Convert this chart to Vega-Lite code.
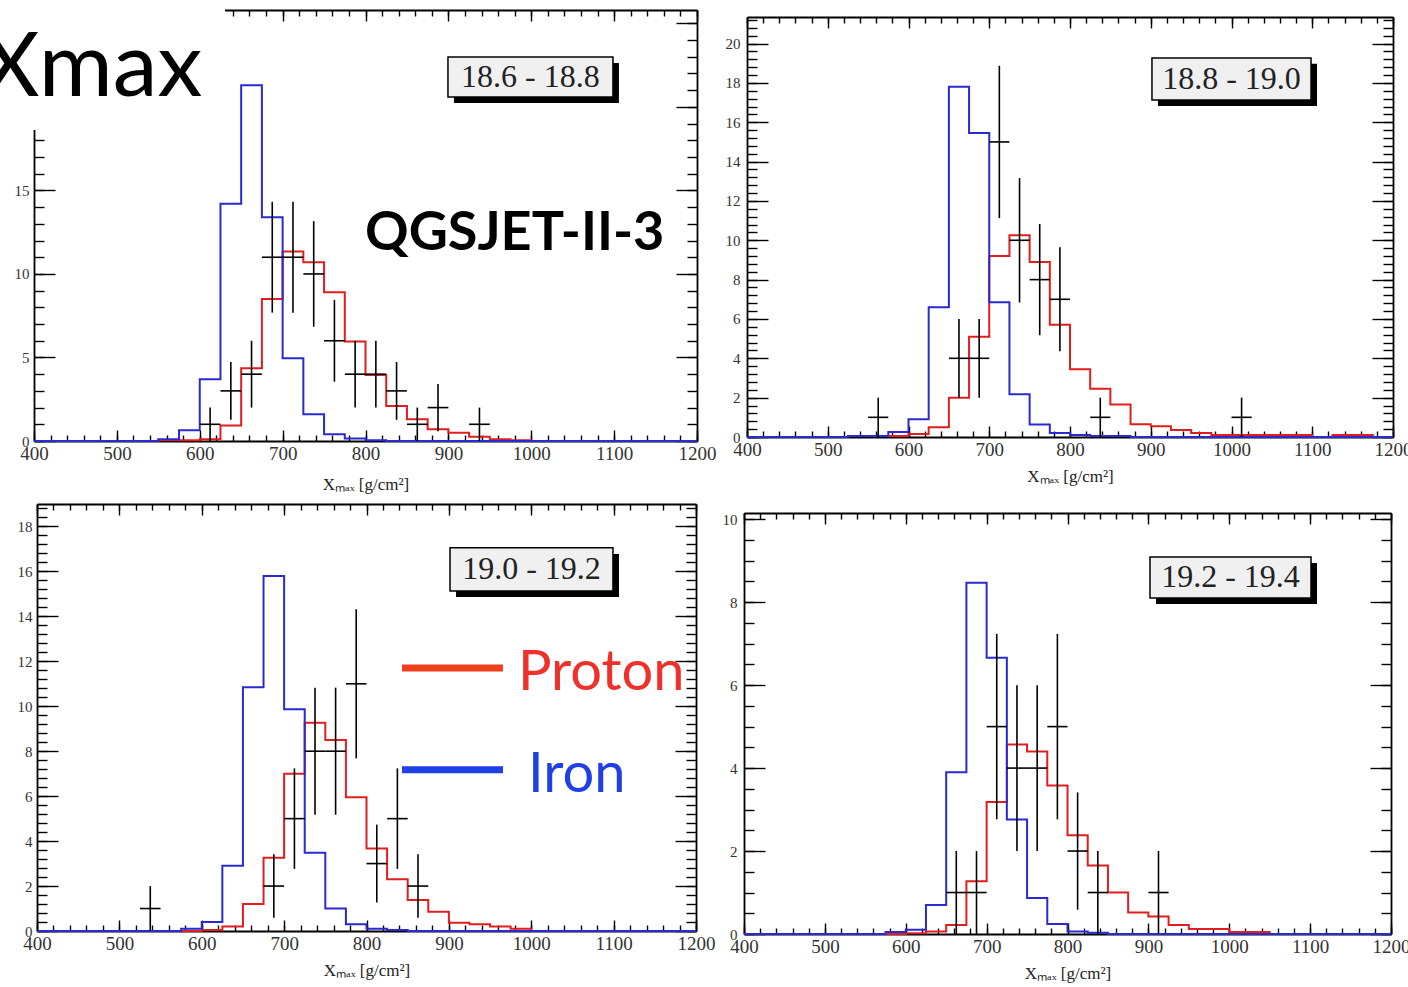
{
  "$schema": "https://vega.github.io/schema/vega-lite/v6.json",
  "width": 1408,
  "height": 987,
  "autosize": {"type": "none"},
  "padding": 0,
  "background": "white",
  "config": {
    "view": {"stroke": null},
    "axis": {"domainColor": "#000", "domainWidth": 1.8, "tickColor": "#000", "tickWidth": 1.4, "labelFont": "Liberation Serif", "labelColor": "#333", "labelOverlap": false, "labelFlush": false, "labelBound": false, "grid": false, "titleFont": "Liberation Serif", "titleFontSize": 17, "titleFontWeight": "normal", "titleColor": "#222"},
    "axisX": {"labelFontSize": 19},
    "axisY": {"labelFontSize": 15}
  },
  "datasets": {
    "hist": [
      {"p":1,"s":"Iron","x":400,"n":0},{"p":1,"s":"Iron","x":550,"n":0.1},{"p":1,"s":"Iron","x":575,"n":0.65},{"p":1,"s":"Iron","x":600,"n":3.7},{"p":1,"s":"Iron","x":625,"n":14.2},{"p":1,"s":"Iron","x":650,"n":21.3},{"p":1,"s":"Iron","x":675,"n":13.4},{"p":1,"s":"Iron","x":700,"n":4.95},{"p":1,"s":"Iron","x":725,"n":1.6},{"p":1,"s":"Iron","x":750,"n":0.4},{"p":1,"s":"Iron","x":775,"n":0.15},{"p":1,"s":"Iron","x":800,"n":0.05},{"p":1,"s":"Iron","x":825,"n":0},{"p":1,"s":"Iron","x":1200,"n":0},
      {"p":1,"s":"Proton","x":400,"n":0},{"p":1,"s":"Proton","x":550,"n":0.05},{"p":1,"s":"Proton","x":600,"n":0.1},{"p":1,"s":"Proton","x":625,"n":0.93},{"p":1,"s":"Proton","x":650,"n":4.35},{"p":1,"s":"Proton","x":675,"n":8.5},{"p":1,"s":"Proton","x":700,"n":11.35},{"p":1,"s":"Proton","x":725,"n":10.7},{"p":1,"s":"Proton","x":750,"n":8.9},{"p":1,"s":"Proton","x":775,"n":5.95},{"p":1,"s":"Proton","x":800,"n":3.95},{"p":1,"s":"Proton","x":825,"n":2.1},{"p":1,"s":"Proton","x":850,"n":1.3},{"p":1,"s":"Proton","x":875,"n":0.7},{"p":1,"s":"Proton","x":900,"n":0.5},{"p":1,"s":"Proton","x":925,"n":0.25},{"p":1,"s":"Proton","x":950,"n":0.1},{"p":1,"s":"Proton","x":975,"n":0.05},{"p":1,"s":"Proton","x":1000,"n":0},{"p":1,"s":"Proton","x":1200,"n":0},
      {"p":2,"s":"Iron","x":400,"n":0},{"p":2,"s":"Iron","x":525,"n":0.05},{"p":2,"s":"Iron","x":575,"n":0.25},{"p":2,"s":"Iron","x":600,"n":0.9},{"p":2,"s":"Iron","x":625,"n":6.6},{"p":2,"s":"Iron","x":650,"n":17.8},{"p":2,"s":"Iron","x":675,"n":15.45},{"p":2,"s":"Iron","x":700,"n":6.85},{"p":2,"s":"Iron","x":725,"n":2.17},{"p":2,"s":"Iron","x":750,"n":0.63},{"p":2,"s":"Iron","x":775,"n":0.2},{"p":2,"s":"Iron","x":800,"n":0.1},{"p":2,"s":"Iron","x":825,"n":0.05},{"p":2,"s":"Iron","x":875,"n":0},{"p":2,"s":"Iron","x":1200,"n":0},
      {"p":2,"s":"Proton","x":400,"n":0},{"p":2,"s":"Proton","x":525,"n":0.05},{"p":2,"s":"Proton","x":600,"n":0.15},{"p":2,"s":"Proton","x":625,"n":0.5},{"p":2,"s":"Proton","x":650,"n":2.0},{"p":2,"s":"Proton","x":675,"n":5.1},{"p":2,"s":"Proton","x":700,"n":9.2},{"p":2,"s":"Proton","x":725,"n":10.25},{"p":2,"s":"Proton","x":750,"n":8.9},{"p":2,"s":"Proton","x":775,"n":5.7},{"p":2,"s":"Proton","x":800,"n":3.45},{"p":2,"s":"Proton","x":825,"n":2.45},{"p":2,"s":"Proton","x":850,"n":1.65},{"p":2,"s":"Proton","x":875,"n":0.65},{"p":2,"s":"Proton","x":900,"n":0.55},{"p":2,"s":"Proton","x":925,"n":0.35},{"p":2,"s":"Proton","x":950,"n":0.2},{"p":2,"s":"Proton","x":975,"n":0.1},{"p":2,"s":"Proton","x":1100,"n":0},{"p":2,"s":"Proton","x":1125,"n":0.1},{"p":2,"s":"Proton","x":1175,"n":0},{"p":2,"s":"Proton","x":1200,"n":0},
      {"p":3,"s":"Iron","x":400,"n":0},{"p":3,"s":"Iron","x":575,"n":0.1},{"p":3,"s":"Iron","x":600,"n":0.4},{"p":3,"s":"Iron","x":625,"n":2.9},{"p":3,"s":"Iron","x":650,"n":10.85},{"p":3,"s":"Iron","x":675,"n":15.8},{"p":3,"s":"Iron","x":700,"n":9.87},{"p":3,"s":"Iron","x":725,"n":3.48},{"p":3,"s":"Iron","x":750,"n":1.0},{"p":3,"s":"Iron","x":775,"n":0.3},{"p":3,"s":"Iron","x":800,"n":0.1},{"p":3,"s":"Iron","x":825,"n":0.05},{"p":3,"s":"Iron","x":850,"n":0},{"p":3,"s":"Iron","x":1200,"n":0},
      {"p":3,"s":"Proton","x":400,"n":0},{"p":3,"s":"Proton","x":600,"n":0.05},{"p":3,"s":"Proton","x":625,"n":0.2},{"p":3,"s":"Proton","x":650,"n":1.2},{"p":3,"s":"Proton","x":675,"n":3.26},{"p":3,"s":"Proton","x":700,"n":7.0},{"p":3,"s":"Proton","x":725,"n":9.27},{"p":3,"s":"Proton","x":750,"n":8.5},{"p":3,"s":"Proton","x":775,"n":5.95},{"p":3,"s":"Proton","x":800,"n":3.67},{"p":3,"s":"Proton","x":825,"n":2.3},{"p":3,"s":"Proton","x":850,"n":1.38},{"p":3,"s":"Proton","x":875,"n":0.86},{"p":3,"s":"Proton","x":900,"n":0.37},{"p":3,"s":"Proton","x":925,"n":0.3},{"p":3,"s":"Proton","x":950,"n":0.2},{"p":3,"s":"Proton","x":975,"n":0.1},{"p":3,"s":"Proton","x":1000,"n":0},{"p":3,"s":"Proton","x":1200,"n":0},
      {"p":4,"s":"Iron","x":400,"n":0},{"p":4,"s":"Iron","x":575,"n":0.05},{"p":4,"s":"Iron","x":600,"n":0.1},{"p":4,"s":"Iron","x":625,"n":0.7},{"p":4,"s":"Iron","x":650,"n":3.9},{"p":4,"s":"Iron","x":675,"n":8.47},{"p":4,"s":"Iron","x":700,"n":6.66},{"p":4,"s":"Iron","x":725,"n":2.76},{"p":4,"s":"Iron","x":750,"n":0.87},{"p":4,"s":"Iron","x":775,"n":0.24},{"p":4,"s":"Iron","x":800,"n":0.06},{"p":4,"s":"Iron","x":825,"n":0.03},{"p":4,"s":"Iron","x":850,"n":0},{"p":4,"s":"Iron","x":1200,"n":0},
      {"p":4,"s":"Proton","x":400,"n":0},{"p":4,"s":"Proton","x":600,"n":0.02},{"p":4,"s":"Proton","x":625,"n":0.06},{"p":4,"s":"Proton","x":650,"n":0.22},{"p":4,"s":"Proton","x":675,"n":1.27},{"p":4,"s":"Proton","x":700,"n":3.18},{"p":4,"s":"Proton","x":725,"n":4.57},{"p":4,"s":"Proton","x":750,"n":4.4},{"p":4,"s":"Proton","x":775,"n":3.58},{"p":4,"s":"Proton","x":800,"n":2.38},{"p":4,"s":"Proton","x":825,"n":1.65},{"p":4,"s":"Proton","x":850,"n":1.0},{"p":4,"s":"Proton","x":875,"n":0.52},{"p":4,"s":"Proton","x":900,"n":0.42},{"p":4,"s":"Proton","x":925,"n":0.22},{"p":4,"s":"Proton","x":950,"n":0.12},{"p":4,"s":"Proton","x":1000,"n":0.05},{"p":4,"s":"Proton","x":1050,"n":0},{"p":4,"s":"Proton","x":1200,"n":0}
    ],
    "pts": [
      {"p":1,"x":612.5,"x0":600,"x1":625,"n":1,"lo":0,"hi":2},
      {"p":1,"x":637.5,"x0":625,"x1":650,"n":3,"lo":1.268,"hi":4.732},
      {"p":1,"x":662.5,"x0":650,"x1":675,"n":4,"lo":2,"hi":6},
      {"p":1,"x":687.5,"x0":675,"x1":700,"n":11,"lo":7.683,"hi":14.317},
      {"p":1,"x":712.5,"x0":700,"x1":725,"n":11,"lo":7.683,"hi":14.317},
      {"p":1,"x":737.5,"x0":725,"x1":750,"n":10,"lo":6.838,"hi":13.162},
      {"p":1,"x":762.5,"x0":750,"x1":775,"n":6,"lo":3.551,"hi":8.449},
      {"p":1,"x":787.5,"x0":775,"x1":800,"n":4,"lo":2,"hi":6},
      {"p":1,"x":812.5,"x0":800,"x1":825,"n":4,"lo":2,"hi":6},
      {"p":1,"x":837.5,"x0":825,"x1":850,"n":3,"lo":1.268,"hi":4.732},
      {"p":1,"x":862.5,"x0":850,"x1":875,"n":1,"lo":0,"hi":2},
      {"p":1,"x":887.5,"x0":875,"x1":900,"n":2,"lo":0.586,"hi":3.414},
      {"p":1,"x":937.5,"x0":925,"x1":950,"n":1,"lo":0,"hi":2},
      {"p":2,"x":562.5,"x0":550,"x1":575,"n":1,"lo":0,"hi":2},
      {"p":2,"x":662.5,"x0":650,"x1":675,"n":4,"lo":2,"hi":6},
      {"p":2,"x":687.5,"x0":675,"x1":700,"n":4,"lo":2,"hi":6},
      {"p":2,"x":712.5,"x0":700,"x1":725,"n":15,"lo":11.127,"hi":18.873},
      {"p":2,"x":737.5,"x0":725,"x1":750,"n":10,"lo":6.838,"hi":13.162},
      {"p":2,"x":762.5,"x0":750,"x1":775,"n":8,"lo":5.172,"hi":10.828},
      {"p":2,"x":787.5,"x0":775,"x1":800,"n":7,"lo":4.354,"hi":9.646},
      {"p":2,"x":837.5,"x0":825,"x1":850,"n":1,"lo":0,"hi":2},
      {"p":2,"x":1012.5,"x0":1000,"x1":1025,"n":1,"lo":0,"hi":2},
      {"p":3,"x":537.5,"x0":525,"x1":550,"n":1,"lo":0,"hi":2},
      {"p":3,"x":687.5,"x0":675,"x1":700,"n":2,"lo":0.586,"hi":3.414},
      {"p":3,"x":712.5,"x0":700,"x1":725,"n":5,"lo":2.764,"hi":7.236},
      {"p":3,"x":737.5,"x0":725,"x1":750,"n":8,"lo":5.172,"hi":10.828},
      {"p":3,"x":762.5,"x0":750,"x1":775,"n":8,"lo":5.172,"hi":10.828},
      {"p":3,"x":787.5,"x0":775,"x1":800,"n":11,"lo":7.683,"hi":14.317},
      {"p":3,"x":812.5,"x0":800,"x1":825,"n":3,"lo":1.268,"hi":4.732},
      {"p":3,"x":837.5,"x0":825,"x1":850,"n":5,"lo":2.764,"hi":7.236},
      {"p":3,"x":862.5,"x0":850,"x1":875,"n":2,"lo":0.586,"hi":3.414},
      {"p":4,"x":662.5,"x0":650,"x1":675,"n":1,"lo":0,"hi":2},
      {"p":4,"x":687.5,"x0":675,"x1":700,"n":1,"lo":0,"hi":2},
      {"p":4,"x":712.5,"x0":700,"x1":725,"n":5,"lo":2.764,"hi":7.236},
      {"p":4,"x":737.5,"x0":725,"x1":750,"n":4,"lo":2,"hi":6},
      {"p":4,"x":762.5,"x0":750,"x1":775,"n":4,"lo":2,"hi":6},
      {"p":4,"x":787.5,"x0":775,"x1":800,"n":5,"lo":2.764,"hi":7.236},
      {"p":4,"x":812.5,"x0":800,"x1":825,"n":2,"lo":0.586,"hi":3.414},
      {"p":4,"x":837.5,"x0":825,"x1":850,"n":1,"lo":0,"hi":2},
      {"p":4,"x":912.5,"x0":900,"x1":925,"n":1,"lo":0,"hi":2}
    ]
  },
  "resolve": {"scale": {"x": "independent", "y": "independent"}, "axis": {"x": "independent", "y": "independent"}},
  "layer": [
    {
      "resolve": {"axis": {"x": "independent", "y": "independent"}},
      "layer": [
        {"data": {"name": "hist"}, "transform": [{"filter": "datum.p == 1 && datum.s == 'Proton'"}],
         "mark": {"type": "line", "interpolate": "step-after", "color": "#e01e1e", "strokeWidth": 2},
         "encoding": {
           "x": {"field": "x", "type": "quantitative", "scale": {"domain": [400, 1200], "range": [34, 697], "nice": false, "zero": false},
                 "axis": {"orient": "bottom", "offset": -546, "values": [400,500,600,700,800,900,1000,1100,1200], "tickSize": -11, "labelPadding": 14, "labelOverlap": false, "format": "d", "title": "Xₘₐₓ [g/cm²]", "titlePadding": 13}},
           "y": {"field": "n", "type": "quantitative", "scale": {"domain": [0, 25.8], "range": [441, 10], "nice": false, "zero": false},
                 "axis": {"orient": "left", "offset": -34, "values": [0,5,10,15,20,25], "tickSize": -21, "labelPadding": 26, "labelOverlap": false, "format": "d", "title": null}}
         }},
        {"data": {"name": "hist"}, "transform": [{"filter": "datum.p == 1 && datum.s == 'Iron'"}],
         "mark": {"type": "line", "interpolate": "step-after", "color": "#2a2ad0", "strokeWidth": 2},
         "encoding": {
           "x": {"field": "x", "type": "quantitative",
                 "axis": {"orient": "top", "offset": -10, "values": [400,500,600,700,800,900,1000,1100,1200], "tickSize": -11, "labels": false, "title": null}},
           "y": {"field": "n", "type": "quantitative",
                 "axis": {"orient": "right", "offset": -711, "values": [0,5,10,15,20,25], "tickSize": -21, "labels": false, "title": null}}
         }},
        {"data": {"name": "pts"}, "transform": [{"filter": "datum.p == 1"}],
         "mark": {"type": "rule", "color": "#000", "strokeWidth": 1.6},
         "encoding": {
           "x": {"field": "x", "type": "quantitative",
                 "axis": {"orient": "bottom", "offset": -546, "values": [400,420,440,460,480,500,520,540,560,580,600,620,640,660,680,700,720,740,760,780,800,820,840,860,880,900,920,940,960,980,1000,1020,1040,1060,1080,1100,1120,1140,1160,1180,1200], "tickSize": -6, "labels": false, "domain": false, "title": null}},
           "y": {"field": "lo", "type": "quantitative",
                 "axis": {"orient": "left", "offset": -34, "values": [0,1,2,3,4,5,6,7,8,9,10,11,12,13,14,15,16,17,18,19,20,21,22,23,24,25], "tickSize": -10, "labels": false, "domain": false, "title": null}},
           "y2": {"field": "hi"}}},
        {"data": {"name": "pts"}, "transform": [{"filter": "datum.p == 1"}],
         "mark": {"type": "rule", "color": "#000", "strokeWidth": 1.6},
         "encoding": {
           "x": {"field": "x0", "type": "quantitative",
                 "axis": {"orient": "top", "offset": -10, "values": [400,420,440,460,480,500,520,540,560,580,600,620,640,660,680,700,720,740,760,780,800,820,840,860,880,900,920,940,960,980,1000,1020,1040,1060,1080,1100,1120,1140,1160,1180,1200], "tickSize": -6, "labels": false, "domain": false, "title": null}},
           "x2": {"field": "x1"},
           "y": {"field": "n", "type": "quantitative",
                 "axis": {"orient": "right", "offset": -711, "values": [0,1,2,3,4,5,6,7,8,9,10,11,12,13,14,15,16,17,18,19,20,21,22,23,24,25], "tickSize": -10, "labels": false, "domain": false, "title": null}}}},
        {"data": {"values": [{}]}, "mark": {"type": "rect", "color": "#000"},
         "encoding": {"x": {"datum": 906.7, "type": "quantitative", "axis": null}, "x2": {"datum": 1105.8}, "y": {"datum": 22.63, "type": "quantitative", "axis": null}, "y2": {"datum": 20.23}}},
        {"data": {"values": [{}]}, "mark": {"type": "rect", "fill": "#f0f0f0", "stroke": "#000", "strokeWidth": 1.5},
         "encoding": {"x": {"datum": 899.5, "type": "quantitative", "axis": null}, "x2": {"datum": 1098.6}, "y": {"datum": 22.99, "type": "quantitative", "axis": null}, "y2": {"datum": 20.59}}},
        {"data": {"values": [{}]}, "mark": {"type": "text", "font": "Liberation Serif", "fontSize": 32, "color": "#222", "align": "center", "baseline": "middle"},
         "encoding": {"x": {"datum": 999, "type": "quantitative", "axis": null}, "y": {"datum": 21.79, "type": "quantitative", "axis": null}, "text": {"value": "18.6 - 18.8"}}},
        {"data": {"values": [{}]}, "mark": {"type": "text", "font": "Lato", "fontWeight": "bold", "fontSize": 54, "color": "#000", "align": "left", "baseline": "alphabetic"},
         "encoding": {"x": {"datum": 799.4, "type": "quantitative", "axis": null}, "y": {"datum": 11.43, "type": "quantitative", "axis": null}, "text": {"value": "QGSJET-II-3"}}},
        {"data": {"values": [{}]}, "mark": {"type": "rect", "color": "#ffffff"},
         "encoding": {"x": {"datum": 330, "type": "quantitative", "axis": null}, "x2": {"datum": 630.5}, "y": {"datum": 27, "type": "quantitative", "axis": null}, "y2": {"datum": 18.62}}},
        {"data": {"values": [{}]}, "mark": {"type": "text", "font": "Lato", "fontSize": 90, "color": "#000", "align": "right", "baseline": "alphabetic"},
         "encoding": {"x": {"datum": 603, "type": "quantitative", "axis": null}, "y": {"datum": 20.65, "type": "quantitative", "axis": null}, "text": {"value": "Xmax"}}}
      ]
    },
    {
      "resolve": {"axis": {"x": "independent", "y": "independent"}},
      "layer": [
        {"data": {"name": "hist"}, "transform": [{"filter": "datum.p == 2 && datum.s == 'Proton'"}],
         "mark": {"type": "line", "interpolate": "step-after", "color": "#e01e1e", "strokeWidth": 2},
         "encoding": {
           "x": {"field": "x", "type": "quantitative", "scale": {"domain": [400, 1200], "range": [747, 1393], "nice": false, "zero": false},
                 "axis": {"orient": "bottom", "offset": -550, "values": [400,500,600,700,800,900,1000,1100,1200], "tickSize": -11, "labelPadding": 14, "labelOverlap": false, "format": "d", "title": "Xₘₐₓ [g/cm²]", "titlePadding": 9}},
           "y": {"field": "n", "type": "quantitative", "scale": {"domain": [0, 21.35], "range": [437, 17], "nice": false, "zero": false},
                 "axis": {"orient": "left", "offset": -747, "values": [0,2,4,6,8,10,12,14,16,18,20], "tickSize": -21, "labelPadding": 28, "labelOverlap": false, "format": "d", "title": null}}
         }},
        {"data": {"name": "hist"}, "transform": [{"filter": "datum.p == 2 && datum.s == 'Iron'"}],
         "mark": {"type": "line", "interpolate": "step-after", "color": "#2a2ad0", "strokeWidth": 2},
         "encoding": {
           "x": {"field": "x", "type": "quantitative",
                 "axis": {"orient": "top", "offset": -17, "values": [400,500,600,700,800,900,1000,1100,1200], "tickSize": -11, "labels": false, "title": null}},
           "y": {"field": "n", "type": "quantitative",
                 "axis": {"orient": "right", "offset": -15, "values": [0,2,4,6,8,10,12,14,16,18,20], "tickSize": -21, "labels": false, "title": null}}
         }},
        {"data": {"name": "pts"}, "transform": [{"filter": "datum.p == 2"}],
         "mark": {"type": "rule", "color": "#000", "strokeWidth": 1.6},
         "encoding": {
           "x": {"field": "x", "type": "quantitative",
                 "axis": {"orient": "bottom", "offset": -550, "values": [400,420,440,460,480,500,520,540,560,580,600,620,640,660,680,700,720,740,760,780,800,820,840,860,880,900,920,940,960,980,1000,1020,1040,1060,1080,1100,1120,1140,1160,1180,1200], "tickSize": -6, "labels": false, "domain": false, "title": null}},
           "y": {"field": "lo", "type": "quantitative",
                 "axis": {"orient": "left", "offset": -747, "values": [0,0.4,0.8,1.2,1.6,2,2.4,2.8,3.2,3.6,4,4.4,4.8,5.2,5.6,6,6.4,6.8,7.2,7.6,8,8.4,8.8,9.2,9.6,10,10.4,10.8,11.2,11.6,12,12.4,12.8,13.2,13.6,14,14.4,14.8,15.2,15.6,16,16.4,16.8,17.2,17.6,18,18.4,18.8,19.2,19.6,20,20.4,20.8,21.2], "tickSize": -10, "labels": false, "domain": false, "title": null}},
           "y2": {"field": "hi"}}},
        {"data": {"name": "pts"}, "transform": [{"filter": "datum.p == 2"}],
         "mark": {"type": "rule", "color": "#000", "strokeWidth": 1.6},
         "encoding": {
           "x": {"field": "x0", "type": "quantitative",
                 "axis": {"orient": "top", "offset": -17, "values": [400,420,440,460,480,500,520,540,560,580,600,620,640,660,680,700,720,740,760,780,800,820,840,860,880,900,920,940,960,980,1000,1020,1040,1060,1080,1100,1120,1140,1160,1180,1200], "tickSize": -6, "labels": false, "domain": false, "title": null}},
           "x2": {"field": "x1"},
           "y": {"field": "n", "type": "quantitative",
                 "axis": {"orient": "right", "offset": -15, "values": [0,0.4,0.8,1.2,1.6,2,2.4,2.8,3.2,3.6,4,4.4,4.8,5.2,5.6,6,6.4,6.8,7.2,7.6,8,8.4,8.8,9.2,9.6,10,10.4,10.8,11.2,11.6,12,12.4,12.8,13.2,13.6,14,14.4,14.8,15.2,15.6,16,16.4,16.8,17.2,17.6,18,18.4,18.8,19.2,19.6,20,20.4,20.8,21.2], "tickSize": -10, "labels": false, "domain": false, "title": null}}}},
        {"data": {"values": [{}]}, "mark": {"type": "rect", "color": "#000"},
         "encoding": {"x": {"datum": 908.9, "type": "quantitative", "axis": null}, "x2": {"datum": 1105.9}, "y": {"datum": 18.97, "type": "quantitative", "axis": null}, "y2": {"datum": 16.83}}},
        {"data": {"values": [{}]}, "mark": {"type": "rect", "fill": "#f0f0f0", "stroke": "#000", "strokeWidth": 1.5},
         "encoding": {"x": {"datum": 901.5, "type": "quantitative", "axis": null}, "x2": {"datum": 1098.5}, "y": {"datum": 19.27, "type": "quantitative", "axis": null}, "y2": {"datum": 17.13}}},
        {"data": {"values": [{}]}, "mark": {"type": "text", "font": "Liberation Serif", "fontSize": 32, "color": "#222", "align": "center", "baseline": "middle"},
         "encoding": {"x": {"datum": 1000, "type": "quantitative", "axis": null}, "y": {"datum": 18.2, "type": "quantitative", "axis": null}, "text": {"value": "18.8 - 19.0"}}}
      ]
    },
    {
      "resolve": {"axis": {"x": "independent", "y": "independent"}},
      "layer": [
        {"data": {"name": "hist"}, "transform": [{"filter": "datum.p == 3 && datum.s == 'Proton'"}],
         "mark": {"type": "line", "interpolate": "step-after", "color": "#e01e1e", "strokeWidth": 2},
         "encoding": {
           "x": {"field": "x", "type": "quantitative", "scale": {"domain": [400, 1200], "range": [37, 696], "nice": false, "zero": false},
                 "axis": {"orient": "bottom", "offset": -56, "values": [400,500,600,700,800,900,1000,1100,1200], "tickSize": -11, "labelPadding": 14, "labelOverlap": false, "format": "d", "title": "Xₘₐₓ [g/cm²]", "titlePadding": 9}},
           "y": {"field": "n", "type": "quantitative", "scale": {"domain": [0, 19], "range": [931, 504], "nice": false, "zero": false},
                 "axis": {"orient": "left", "offset": -37, "values": [0,2,4,6,8,10,12,14,16,18], "tickSize": -21, "labelPadding": 26, "labelOverlap": false, "format": "d", "title": null}}
         }},
        {"data": {"name": "hist"}, "transform": [{"filter": "datum.p == 3 && datum.s == 'Iron'"}],
         "mark": {"type": "line", "interpolate": "step-after", "color": "#2a2ad0", "strokeWidth": 2},
         "encoding": {
           "x": {"field": "x", "type": "quantitative",
                 "axis": {"orient": "top", "offset": -504, "values": [400,500,600,700,800,900,1000,1100,1200], "tickSize": -11, "labels": false, "title": null}},
           "y": {"field": "n", "type": "quantitative",
                 "axis": {"orient": "right", "offset": -712, "values": [0,2,4,6,8,10,12,14,16,18], "tickSize": -21, "labels": false, "title": null}}
         }},
        {"data": {"name": "pts"}, "transform": [{"filter": "datum.p == 3"}],
         "mark": {"type": "rule", "color": "#000", "strokeWidth": 1.6},
         "encoding": {
           "x": {"field": "x", "type": "quantitative",
                 "axis": {"orient": "bottom", "offset": -56, "values": [400,420,440,460,480,500,520,540,560,580,600,620,640,660,680,700,720,740,760,780,800,820,840,860,880,900,920,940,960,980,1000,1020,1040,1060,1080,1100,1120,1140,1160,1180,1200], "tickSize": -6, "labels": false, "domain": false, "title": null}},
           "y": {"field": "lo", "type": "quantitative",
                 "axis": {"orient": "left", "offset": -37, "values": [0,0.4,0.8,1.2,1.6,2,2.4,2.8,3.2,3.6,4,4.4,4.8,5.2,5.6,6,6.4,6.8,7.2,7.6,8,8.4,8.8,9.2,9.6,10,10.4,10.8,11.2,11.6,12,12.4,12.8,13.2,13.6,14,14.4,14.8,15.2,15.6,16,16.4,16.8,17.2,17.6,18,18.4,18.8], "tickSize": -10, "labels": false, "domain": false, "title": null}},
           "y2": {"field": "hi"}}},
        {"data": {"name": "pts"}, "transform": [{"filter": "datum.p == 3"}],
         "mark": {"type": "rule", "color": "#000", "strokeWidth": 1.6},
         "encoding": {
           "x": {"field": "x0", "type": "quantitative",
                 "axis": {"orient": "top", "offset": -504, "values": [400,420,440,460,480,500,520,540,560,580,600,620,640,660,680,700,720,740,760,780,800,820,840,860,880,900,920,940,960,980,1000,1020,1040,1060,1080,1100,1120,1140,1160,1180,1200], "tickSize": -6, "labels": false, "domain": false, "title": null}},
           "x2": {"field": "x1"},
           "y": {"field": "n", "type": "quantitative",
                 "axis": {"orient": "right", "offset": -712, "values": [0,0.4,0.8,1.2,1.6,2,2.4,2.8,3.2,3.6,4,4.4,4.8,5.2,5.6,6,6.4,6.8,7.2,7.6,8,8.4,8.8,9.2,9.6,10,10.4,10.8,11.2,11.6,12,12.4,12.8,13.2,13.6,14,14.4,14.8,15.2,15.6,16,16.4,16.8,17.2,17.6,18,18.4,18.8], "tickSize": -10, "labels": false, "domain": false, "title": null}}}},
        {"data": {"values": [{}]}, "mark": {"type": "rect", "color": "#000"},
         "encoding": {"x": {"datum": 908.7, "type": "quantitative", "axis": null}, "x2": {"datum": 1106.5}, "y": {"datum": 16.78, "type": "quantitative", "axis": null}, "y2": {"datum": 14.86}}},
        {"data": {"values": [{}]}, "mark": {"type": "rect", "fill": "#f0f0f0", "stroke": "#000", "strokeWidth": 1.5},
         "encoding": {"x": {"datum": 901.4, "type": "quantitative", "axis": null}, "x2": {"datum": 1099.2}, "y": {"datum": 17.05, "type": "quantitative", "axis": null}, "y2": {"datum": 15.13}}},
        {"data": {"values": [{}]}, "mark": {"type": "text", "font": "Liberation Serif", "fontSize": 32, "color": "#222", "align": "center", "baseline": "middle"},
         "encoding": {"x": {"datum": 1000.3, "type": "quantitative", "axis": null}, "y": {"datum": 16.09, "type": "quantitative", "axis": null}, "text": {"value": "19.0 - 19.2"}}},
        {"data": {"values": [{}]}, "mark": {"type": "rule", "color": "#f0401e", "strokeWidth": 7},
         "encoding": {"x": {"datum": 843.1, "type": "quantitative", "axis": null}, "x2": {"datum": 965.7}, "y": {"datum": 11.7, "type": "quantitative", "axis": null}}},
        {"data": {"values": [{}]}, "mark": {"type": "rule", "color": "#1f3fe8", "strokeWidth": 7},
         "encoding": {"x": {"datum": 843.1, "type": "quantitative", "axis": null}, "x2": {"datum": 965.7}, "y": {"datum": 7.17, "type": "quantitative", "axis": null}}},
        {"data": {"values": [{}]}, "mark": {"type": "text", "font": "Lato", "fontSize": 56, "color": "#f0302a", "align": "left", "baseline": "alphabetic"},
         "encoding": {"x": {"datum": 983.9, "type": "quantitative", "axis": null}, "y": {"datum": 10.73, "type": "quantitative", "axis": null}, "text": {"value": "Proton"}}},
        {"data": {"values": [{}]}, "mark": {"type": "text", "font": "Lato", "fontSize": 56, "color": "#1f3fe8", "align": "left", "baseline": "alphabetic"},
         "encoding": {"x": {"datum": 996.0, "type": "quantitative", "axis": null}, "y": {"datum": 6.19, "type": "quantitative", "axis": null}, "text": {"value": "Iron"}}}
      ]
    },
    {
      "resolve": {"axis": {"x": "independent", "y": "independent"}},
      "layer": [
        {"data": {"name": "hist"}, "transform": [{"filter": "datum.p == 4 && datum.s == 'Proton'"}],
         "mark": {"type": "line", "interpolate": "step-after", "color": "#e01e1e", "strokeWidth": 2},
         "encoding": {
           "x": {"field": "x", "type": "quantitative", "scale": {"domain": [400, 1200], "range": [744, 1391], "nice": false, "zero": false},
                 "axis": {"orient": "bottom", "offset": -53, "values": [400,500,600,700,800,900,1000,1100,1200], "tickSize": -11, "labelPadding": 14, "labelOverlap": false, "format": "d", "title": "Xₘₐₓ [g/cm²]", "titlePadding": 9}},
           "y": {"field": "n", "type": "quantitative", "scale": {"domain": [0, 10.15], "range": [934, 513], "nice": false, "zero": false},
                 "axis": {"orient": "left", "offset": -744, "values": [0,2,4,6,8,10], "tickSize": -21, "labelPadding": 28, "labelOverlap": false, "format": "d", "title": null}}
         }},
        {"data": {"name": "hist"}, "transform": [{"filter": "datum.p == 4 && datum.s == 'Iron'"}],
         "mark": {"type": "line", "interpolate": "step-after", "color": "#2a2ad0", "strokeWidth": 2},
         "encoding": {
           "x": {"field": "x", "type": "quantitative",
                 "axis": {"orient": "top", "offset": -513, "values": [400,500,600,700,800,900,1000,1100,1200], "tickSize": -11, "labels": false, "title": null}},
           "y": {"field": "n", "type": "quantitative",
                 "axis": {"orient": "right", "offset": -17, "values": [0,2,4,6,8,10], "tickSize": -21, "labels": false, "title": null}}
         }},
        {"data": {"name": "pts"}, "transform": [{"filter": "datum.p == 4"}],
         "mark": {"type": "rule", "color": "#000", "strokeWidth": 1.6},
         "encoding": {
           "x": {"field": "x", "type": "quantitative",
                 "axis": {"orient": "bottom", "offset": -53, "values": [400,420,440,460,480,500,520,540,560,580,600,620,640,660,680,700,720,740,760,780,800,820,840,860,880,900,920,940,960,980,1000,1020,1040,1060,1080,1100,1120,1140,1160,1180,1200], "tickSize": -6, "labels": false, "domain": false, "title": null}},
           "y": {"field": "lo", "type": "quantitative",
                 "axis": {"orient": "left", "offset": -744, "values": [0,0.5,1,1.5,2,2.5,3,3.5,4,4.5,5,5.5,6,6.5,7,7.5,8,8.5,9,9.5,10], "tickSize": -10, "labels": false, "domain": false, "title": null}},
           "y2": {"field": "hi"}}},
        {"data": {"name": "pts"}, "transform": [{"filter": "datum.p == 4"}],
         "mark": {"type": "rule", "color": "#000", "strokeWidth": 1.6},
         "encoding": {
           "x": {"field": "x0", "type": "quantitative",
                 "axis": {"orient": "top", "offset": -513, "values": [400,420,440,460,480,500,520,540,560,580,600,620,640,660,680,700,720,740,760,780,800,820,840,860,880,900,920,940,960,980,1000,1020,1040,1060,1080,1100,1120,1140,1160,1180,1200], "tickSize": -6, "labels": false, "domain": false, "title": null}},
           "x2": {"field": "x1"},
           "y": {"field": "n", "type": "quantitative",
                 "axis": {"orient": "right", "offset": -17, "values": [0,0.5,1,1.5,2,2.5,3,3.5,4,4.5,5,5.5,6,6.5,7,7.5,8,8.5,9,9.5,10], "tickSize": -10, "labels": false, "domain": false, "title": null}}}},
        {"data": {"values": [{}]}, "mark": {"type": "rect", "color": "#000"},
         "encoding": {"x": {"datum": 909.4, "type": "quantitative", "axis": null}, "x2": {"datum": 1108.5}, "y": {"datum": 8.945, "type": "quantitative", "axis": null}, "y2": {"datum": 7.955}}},
        {"data": {"values": [{}]}, "mark": {"type": "rect", "fill": "#f0f0f0", "stroke": "#000", "strokeWidth": 1.5},
         "encoding": {"x": {"datum": 902.0, "type": "quantitative", "axis": null}, "x2": {"datum": 1101.1}, "y": {"datum": 9.09, "type": "quantitative", "axis": null}, "y2": {"datum": 8.10}}},
        {"data": {"values": [{}]}, "mark": {"type": "text", "font": "Liberation Serif", "fontSize": 32, "color": "#222", "align": "center", "baseline": "middle"},
         "encoding": {"x": {"datum": 1001.5, "type": "quantitative", "axis": null}, "y": {"datum": 8.595, "type": "quantitative", "axis": null}, "text": {"value": "19.2 - 19.4"}}}
      ]
    }
  ]
}
